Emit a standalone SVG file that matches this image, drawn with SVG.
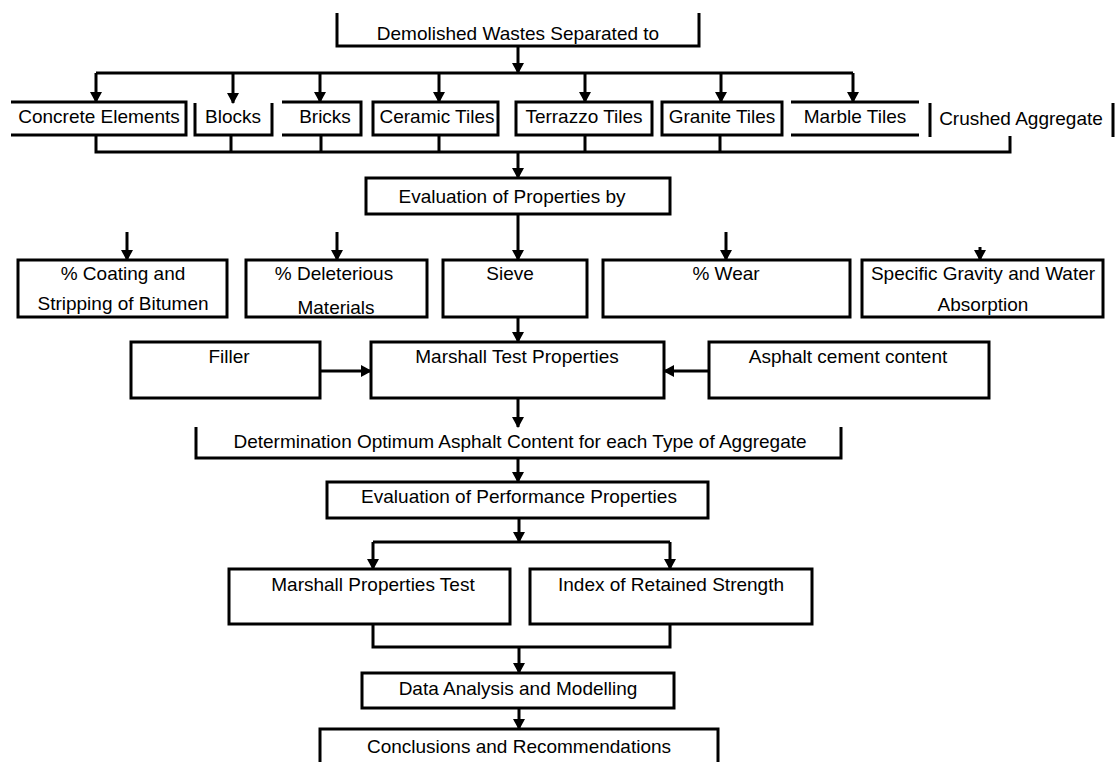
<svg xmlns="http://www.w3.org/2000/svg" width="1115" height="762" viewBox="0 0 1115 762">
<style>
.b{fill:none;stroke:#000;stroke-width:3}
.c{fill:none;stroke:#000;stroke-width:3}
.a{fill:none;stroke:#000;stroke-width:3;marker-end:url(#ah)}
text{font-family:"Liberation Sans",Arial,sans-serif;font-size:19px;fill:#000;text-anchor:middle}
</style>
<defs>
<marker id="ah" markerUnits="userSpaceOnUse" markerWidth="12" markerHeight="12" refX="10" refY="6" orient="auto" viewBox="0 0 12 12">
<path d="M0,0 L11,6 L0,12 z" fill="#000"/>
</marker>
</defs>
<rect width="1115" height="762" fill="#fff"/>
<g id="connectors">
<path class="a" d="M518,46 V73"/>
<path class="c" d="M96,73 H853"/>
<path class="a" d="M96,73 V102"/>
<path class="a" d="M233,73 V103"/>
<path class="a" d="M320,73 V102"/>
<path class="a" d="M439,73 V102"/>
<path class="a" d="M585,73 V102"/>
<path class="a" d="M721,73 V102"/>
<path class="a" d="M853,73 V102"/>
<path class="c" d="M96,135 V152 H1010 V136 M231,135 V152 M321,135 V152 M439,135 V152 M585,135 V152 M720,135 V152"/>
<path class="a" d="M518,152 V178"/>
<path class="a" d="M518,214 V260"/>
<path class="a" d="M127,232 V260"/>
<path class="a" d="M337,232 V260"/>
<path class="a" d="M726,232 V260"/>
<path class="a" d="M980,247 V260"/>
<path class="a" d="M518,317 V342"/>
<path class="a" d="M320,371 H371"/>
<path class="a" d="M709,371 H664"/>
<path class="a" d="M518,398 V427"/>
<path class="a" d="M518,458 V482"/>
<path class="a" d="M519,518 V542"/>
<path class="c" d="M373,542 H670"/>
<path class="a" d="M373,542 V569"/>
<path class="a" d="M670,542 V569"/>
<path class="c" d="M373,624 V647 H670 V624"/>
<path class="a" d="M519,647 V673"/>
<path class="a" d="M519,708 V729"/>
</g>
<g id="n-demolished"><path class="b" d="M337,13 V46 H699 V13"/><text x="518" y="40">Demolished Wastes Separated to</text></g>
<g id="n-concrete"><path class="b" d="M11,102 H186 V135 H11"/><text x="99" y="123">Concrete Elements</text></g>
<g id="n-blocks"><path class="b" d="M195,103 V135 H272 V103"/><text x="233" y="123">Blocks</text></g>
<g id="n-bricks"><path class="b" d="M282,102 H361 V135 H282"/><text x="325" y="123">Bricks</text></g>
<g id="n-ceramic"><rect class="b" x="373" y="102" width="125" height="33"/><text x="437" y="123">Ceramic Tiles</text></g>
<g id="n-terrazzo"><rect class="b" x="516" y="102" width="136" height="33"/><text x="584" y="123">Terrazzo Tiles</text></g>
<g id="n-granite"><rect class="b" x="662" y="102" width="120" height="33"/><text x="722" y="123">Granite Tiles</text></g>
<g id="n-marble"><path class="b" d="M791,102 H919 M791,135 H919"/><text x="855" y="123">Marble Tiles</text></g>
<g id="n-crushed"><path class="b" d="M930,103 V137 M1113,103 V137"/><text x="1021" y="125">Crushed Aggregate</text></g>
<g id="n-evaluation"><rect class="b" x="366" y="178" width="304" height="36"/><text x="512" y="203">Evaluation of Properties by</text></g>
<g id="n-coating"><rect class="b" x="18" y="260" width="209" height="57"/><text x="123" y="280">% Coating and</text><text x="123" y="310">Stripping of Bitumen</text></g>
<g id="n-deleterious"><rect class="b" x="246" y="260" width="181" height="57"/><text x="334" y="280">% Deleterious</text><text x="336" y="314">Materials</text></g>
<g id="n-sieve"><rect class="b" x="443" y="260" width="144" height="57"/><text x="510" y="280">Sieve</text></g>
<g id="n-wear"><rect class="b" x="603" y="260" width="247" height="57"/><text x="726" y="280">% Wear</text></g>
<g id="n-gravity"><rect class="b" x="862" y="260" width="241" height="57"/><text x="983" y="280">Specific Gravity and Water</text><text x="983" y="311">Absorption</text></g>
<g id="n-filler"><rect class="b" x="131" y="342" width="189" height="56"/><text x="229" y="363">Filler</text></g>
<g id="n-marshall"><rect class="b" x="371" y="342" width="293" height="56"/><text x="517" y="363">Marshall Test Properties</text></g>
<g id="n-asphalt"><rect class="b" x="709" y="342" width="280" height="56"/><text x="848" y="363">Asphalt cement content</text></g>
<g id="n-determination"><path class="b" d="M196,427 V458 H841 V427"/><text x="520" y="448">Determination Optimum Asphalt Content for each Type of Aggregate</text></g>
<g id="n-performance"><rect class="b" x="327" y="482" width="381" height="36"/><text x="519" y="503">Evaluation of Performance Properties</text></g>
<g id="n-marshall-test"><rect class="b" x="229" y="569" width="281" height="55"/><text x="373" y="591">Marshall Properties Test</text></g>
<g id="n-index"><rect class="b" x="530" y="569" width="282" height="55"/><text x="671" y="591">Index of Retained Strength</text></g>
<g id="n-data"><rect class="b" x="362" y="673" width="312" height="35"/><text x="518" y="695">Data Analysis and Modelling</text></g>
<g id="n-conclusions"><rect class="b" x="320" y="729" width="398" height="45"/><text x="519" y="753">Conclusions and Recommendations</text></g>
</svg>
